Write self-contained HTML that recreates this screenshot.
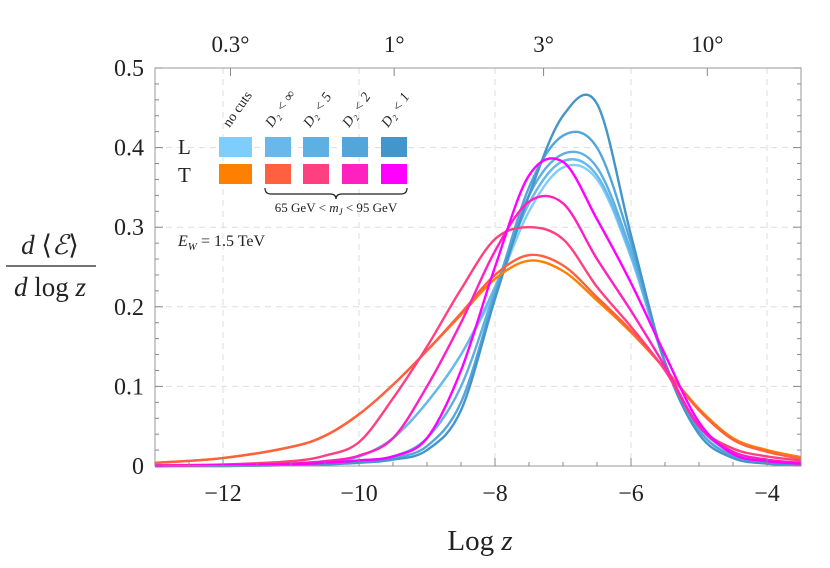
<!DOCTYPE html>
<html><head><meta charset="utf-8"><style>
body{margin:0;background:#fff;}
svg text{font-family:"Liberation Serif",serif;fill:#222;}
</style></head><body>
<svg id="chart" width="830" height="563">
<g id="grid"></g>
<g id="series"></g>
<g id="axes"></g>
<g>
  <text x="178" y="154" font-size="21">L</text>
  <text x="178" y="182" font-size="21">T</text>
  <g id="legsw"></g>
  <path d="M265,188 q0,6 6,6 h59 q6,0 6,5 q0,-5 6,-5 h59 q6,0 6,-6" fill="none" stroke="#222" stroke-width="1.2"/>
  <text x="336" y="212" font-size="13" text-anchor="middle">65 GeV &lt; <tspan font-style="italic">m</tspan><tspan font-style="italic" font-size="9" dy="3">J</tspan><tspan dy="-3"> &lt; 95 GeV</tspan></text>
  <text x="178" y="246" font-size="16"><tspan font-style="italic">E</tspan><tspan font-style="italic" font-size="11" dy="4">W</tspan><tspan dy="-4"> = 1.5 TeV</tspan></text>
</g>
<g>
  <text x="50" y="254" font-size="27" text-anchor="middle"><tspan font-style="italic">d</tspan> ⟨<tspan font-style="italic">ℰ</tspan>⟩</text>
  <line x1="6" y1="266" x2="96" y2="266" stroke="#222" stroke-width="1.3"/>
  <text x="50" y="296" font-size="27" text-anchor="middle"><tspan font-style="italic">d</tspan> log <tspan font-style="italic">z</tspan></text>
</g>
<text x="480" y="550" font-size="29" text-anchor="middle">Log <tspan font-style="italic">z</tspan></text>
</svg>
<script>
const xs = [-13,-12,-11,-10.5,-10,-9.5,-9,-8.5,-8,-7.5,-7,-6.5,-6,-5.5,-5,-4.5,-4,-3.5];
const tNoCuts = [0.004,0.010,0.024,0.038,0.065,0.102,0.145,0.19,0.235,0.258,0.245,0.208,0.168,0.122,0.072,0.035,0.02,0.011];
const tDinf   = [0.004,0.010,0.024,0.038,0.065,0.102,0.145,0.192,0.24,0.265,0.252,0.212,0.17,0.122,0.07,0.033,0.018,0.009];
const tD5     = [0.001,0.002,0.006,0.013,0.030,0.085,0.15,0.222,0.285,0.300,0.285,0.225,0.175,0.12,0.05,0.022,0.012,0.007];
const tD2     = [0,0.001,0.003,0.006,0.013,0.035,0.10,0.18,0.27,0.332,0.33,0.26,0.195,0.125,0.05,0.018,0.008,0.004];
const tD1     = [0,0.001,0.002,0.004,0.007,0.012,0.035,0.12,0.25,0.365,0.382,0.31,0.23,0.14,0.055,0.015,0.006,0.003];
const lNoCuts = [0,0.001,0.003,0.006,0.012,0.035,0.08,0.14,0.22,0.32,0.375,0.36,0.262,0.13,0.05,0.016,0.005,0.002];
const lDinf   = [0,0.001,0.003,0.006,0.012,0.035,0.08,0.14,0.225,0.33,0.383,0.365,0.265,0.13,0.05,0.016,0.005,0.002];
const lD5     = [0,0.001,0.002,0.004,0.007,0.012,0.035,0.10,0.22,0.34,0.392,0.375,0.27,0.13,0.045,0.013,0.004,0.001];
const lD2     = [0,0,0.001,0.002,0.005,0.010,0.025,0.08,0.215,0.35,0.415,0.40,0.28,0.13,0.045,0.012,0.003,0.001];
const lD1     = [0,0,0.001,0.002,0.004,0.008,0.02,0.07,0.21,0.34,0.44,0.455,0.29,0.13,0.04,0.01,0.003,0.001];
const xTicks = [-12,-10,-8,-6,-4];
const yTicks = [0,0.1,0.2,0.3,0.4,0.5];
const yTickLabels = ["0","0.1","0.2","0.3","0.4","0.5"];
const topDeg = [0.3,1,3,10];
const topLabels = ["0.3°","1°","3°","10°"];
const legendNames = ["no cuts","D₂ < ∞","D₂ < 5","D₂ < 2","D₂ < 1"];

const NS="http://www.w3.org/2000/svg";
const L=155,R=801,T=68,B=466,X0=-13,X1=-3.5,Y1=0.5;
const sx=v=>L+(v-X0)/(X1-X0)*(R-L);
const sy=v=>B-v/Y1*(B-T);
function mk(tag,attrs,parent){const e=document.createElementNS(NS,tag);for(const k in attrs)e.setAttribute(k,attrs[k]);parent.appendChild(e);return e;}
const grid=document.getElementById('grid'),axes=document.getElementById('axes'),ser=document.getElementById('series');
xTicks.forEach(v=>{const l=mk('line',{x1:sx(v),x2:sx(v),y1:T,y2:B,stroke:'#ddd','stroke-dasharray':'6,5'},grid);

});
yTicks.slice(1,5).forEach(v=>{const l=mk('line',{x1:L,x2:R,y1:sy(v),y2:sy(v),stroke:'#ddd','stroke-dasharray':'6,5'},grid);

});
const fr=mk('rect',{x:L,y:T,width:R-L,height:B-T,fill:'none',stroke:'#999','stroke-width':1},axes);


for(let v=-13;v<=-3.5;v+=0.5){const maj=Number.isInteger(v/2);
 mk('line',{x1:sx(v),x2:sx(v),y1:B,y2:B-(maj?8:4),stroke:'#888'},axes);}
for(let i=0;i<=25;i++){const v=i*0.02,maj=i%5==0;
 mk('line',{x1:L,x2:L+(maj?8:4),y1:sy(v),y2:sy(v),stroke:'#888'},axes);
 mk('line',{x1:R,x2:R-(maj?8:4),y1:sy(v),y2:sy(v),stroke:'#888'},axes);}
xTicks.forEach(v=>{const t=mk('text',{x:sx(v),y:501,'font-size':24,'text-anchor':'middle'},axes);t.textContent='−'+Math.abs(v);

});
yTicks.forEach((v,i)=>{const t=mk('text',{x:144,y:sy(v)+8,'font-size':24,'text-anchor':'end'},axes);t.textContent=yTickLabels[i];

});
topDeg.forEach((d,i)=>{const th=d*Math.PI/180,v=Math.log(th*th/4),x=sx(v);
 mk('line',{x1:x,x2:x,y1:T,y2:T+8,stroke:'#888'},axes);
 const t=mk('text',{x:x,y:52,'font-size':23,'text-anchor':'middle'},axes);t.textContent=topLabels[i];
 
 });
function path(ys){const p=xs.map((x,i)=>[sx(x),sy(ys[i])]);let d='M'+p[0][0]+','+p[0][1];
 for(let i=0;i<p.length-1;i++){const p0=p[Math.max(0,i-1)],p1=p[i],p2=p[i+1],p3=p[Math.min(p.length-1,i+2)];
  const c1=[p1[0]+(p2[0]-p0[0])/6,p1[1]+(p2[1]-p0[1])/6],c2=[p2[0]-(p3[0]-p1[0])/6,p2[1]-(p3[1]-p1[1])/6];
  d+=` C${c1[0]},${c1[1]} ${c2[0]},${c2[1]} ${p2[0]},${p2[1]}`;}return d;}
const series=[[lNoCuts,'#7fcdfa','l-no-cuts'],[lDinf,'#6ab8ea','l-d2-inf'],[lD5,'#5eb0e2','l-d2-5'],[lD2,'#54a6da','l-d2-2'],[lD1,'#4495c9','l-d2-1'],
[tNoCuts,'#ff7f00','t-no-cuts'],[tDinf,'#ff6040','t-d2-inf'],[tD5,'#ff4080','t-d2-5'],[tD2,'#ff20c0','t-d2-2'],[tD1,'#ff00ff','t-d2-1']];
series.forEach(s=>{const e=mk('path',{d:path(s[0]),fill:'none',stroke:s[1],'stroke-width':2.4,'stroke-linejoin':'round'},ser);

});
const leg=document.getElementById('legsw');
const colX=[219,265,303,342,381],colW=[33,26,26,26,26];
for(let i=0;i<5;i++){
 const a=mk('rect',{x:colX[i],y:137,width:colW[i],height:20,fill:series[i][1]},leg);
 
 
 const b=mk('rect',{x:colX[i],y:164,width:colW[i],height:20,fill:series[i+5][1]},leg);
 
 
 const cx=colX[i]+colW[i]/2;
 const t=mk('text',{x:cx-6,y:128,'font-size':14,'font-style':i?'italic':'normal',transform:`rotate(-55 ${cx-6} 128)`},leg);
 t.textContent=legendNames[i];
 
 
}
</script>
</body></html>
